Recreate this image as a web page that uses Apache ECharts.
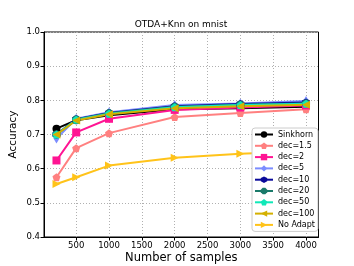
<!DOCTYPE html>
<html><head><meta charset="utf-8">
<script src="https://cdn.jsdelivr.net/npm/echarts@6/dist/echarts.min.js"></script>
<style>html,body{margin:0;padding:0;background:#fff}#c{width:354px;height:266px}</style>
</head><body><div id="c"></div>
<script>
const samples = [200, 500, 1000, 2000, 3000, 4000];
const sinkhorn = [0.717, 0.742, 0.756, 0.774, 0.777, 0.781];
const dec1_5   = [0.575, 0.660, 0.704, 0.751, 0.763, 0.774];
const dec2     = [0.624, 0.706, 0.746, 0.772, 0.779, 0.785];
const dec5     = [0.688, 0.746, 0.765, 0.786, 0.791, 0.798];
const dec10    = [0.700, 0.745, 0.763, 0.783, 0.789, 0.794];
const dec20    = [0.700, 0.744, 0.762, 0.781, 0.787, 0.791];
const dec50    = [0.700, 0.743, 0.761, 0.780, 0.786, 0.790];
const dec100   = [0.700, 0.741, 0.759, 0.777, 0.783, 0.787];
const noAdapt  = [0.555, 0.575, 0.609, 0.632, 0.644, 0.651];
const xTicks = [500, 1000, 1500, 2000, 2500, 3000, 3500, 4000];
const names = ['Sinkhorn','dec=1.5','dec=2','dec=5','dec=10','dec=20','dec=50','dec=100','No Adapt'];

const PENT = 'path://M0,-10 L9.51,-3.09 L5.88,8.09 L-5.88,8.09 L-9.51,-3.09 Z';
const HEX = 'path://M0,-10 L8.66,-5 L8.66,5 L0,10 L-8.66,5 L-8.66,-5 Z';
const OCT = 'path://M-4.14,-10 L4.14,-10 L10,-4.14 L10,4.14 L4.14,10 L-4.14,10 L-10,4.14 L-10,-4.14 Z';
const LTRI = 'path://M-10,0 L10,-10 L10,10 Z';
const RTRI = 'path://M10,0 L-10,-10 L-10,10 Z';

const styles = [
  {color:'#000000', symbol:'circle', size:8},
  {color:'#FF8080', symbol:PENT, size:8},
  {color:'#FF1493', symbol:'rect', size:8},
  {color:'#7B8CFF', symbol:'diamond', size:[6,10]},
  {color:'#0A0A9A', symbol:HEX, size:8},
  {color:'#1B7A6A', symbol:OCT, size:8},
  {color:'#10E8B8', symbol:PENT, size:8},
  {color:'#D4B000', symbol:LTRI, size:8},
  {color:'#FFC31A', symbol:RTRI, size:8}
];
const values = [sinkhorn, dec1_5, dec2, dec5, dec10, dec20, dec50, dec100, noAdapt];

const series = names.map((n,i)=>({
  name:n, type:'line',
  data: samples.map((x,j)=>[x, values[i][j]]),
  symbol: styles[i].symbol, symbolSize: styles[i].size,
  lineStyle:{color:styles[i].color, width:2},
  itemStyle:{color:styles[i].color},
  emphasis:{disabled:true}, animation:false
}));

const chart = echarts.init(document.getElementById('c'), null, {renderer:'canvas'});
chart.setOption({
  animation:false,
  title:{text:'OTDA+Knn on mnist', left:181, top:20, textAlign:'center', padding:0,
    textStyle:{fontSize:9, fontWeight:'normal', color:'#000', fontFamily:'DejaVu Sans'}},
  grid:{left:44, right:35.5, top:32, bottom:29, show:true, borderColor:'#000', borderWidth:1,
    containLabel:false, outerBoundsMode:'none'},
  legend:{orient:'vertical', left:252, top:128, itemWidth:18, itemHeight:8, itemGap:2.3,
    backgroundColor:'#fff', borderColor:'#ccc', borderWidth:1, borderRadius:3, padding:[2,3,2,2],
    textStyle:{fontSize:8, lineHeight:9, color:'#000', fontFamily:'DejaVu Sans'},
    data:names},
  xAxis:{type:'value', min:10, max:4190,
    name:'Number of samples', nameLocation:'middle', nameGap:15, nameMoveOverlap:false,
    nameTextStyle:{fontSize:11.5, color:'#000', fontFamily:'DejaVu Sans'},
    axisLine:{show:true, lineStyle:{color:'#000', width:1}},
    axisTick:{show:true, length:3.5, customValues:xTicks, lineStyle:{color:'#000'}},
    axisLabel:{customValues:xTicks, fontSize:8.5, color:'#000', fontFamily:'DejaVu Sans', margin:4,
      formatter:v=>String(v)},
    splitLine:{show:true, lineStyle:{color:'#b0b0b0', type:[1,2], width:1}}},
  yAxis:{type:'value', min:0.4, max:1.0, interval:0.1,
    name:'Accuracy', nameLocation:'middle', nameGap:25, nameMoveOverlap:false,
    nameTextStyle:{fontSize:10.5, color:'#000', fontFamily:'DejaVu Sans'},
    axisLine:{show:true, lineStyle:{color:'#000', width:1}},
    axisTick:{show:true, length:3.5, lineStyle:{color:'#000'}},
    axisLabel:{fontSize:8.5, color:'#000', fontFamily:'DejaVu Sans', margin:4, formatter:v=>v.toFixed(1)},
    splitLine:{show:true, lineStyle:{color:'#b0b0b0', type:[1,2], width:1}}},
  series:series
});
</script></body></html>
